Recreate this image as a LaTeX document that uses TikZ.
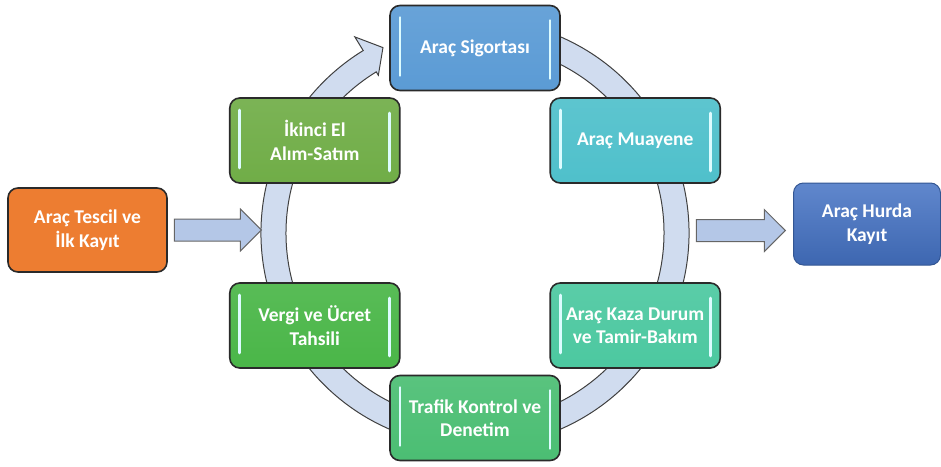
\documentclass[tikz,border=0pt]{standalone}
\usepackage{fontspec}
\setmainfont{Carlito}
\usetikzlibrary{positioning,shapes.arrows}

\definecolor{boxline}{HTML}{2A2A2A}
\definecolor{sigortablue}{HTML}{5B9BD5}
\definecolor{muayenecyan}{HTML}{4FC0CB}
\definecolor{kazateal}{HTML}{4CC8A0}
\definecolor{trafikgreen}{HTML}{4BBE73}
\definecolor{vergigreen}{HTML}{4AB648}
\definecolor{ikincigreen}{HTML}{70AD47}
\definecolor{tescilorange}{HTML}{ED7D31}
\definecolor{hurdablue}{HTML}{4472C4}
\definecolor{ringfill}{HTML}{D0DCEF}
\definecolor{arrowfill}{HTML}{B4C7E7}
\definecolor{glint}{HTML}{DDFCFF}

\newcommand\boxfont{\bfseries\fontsize{19.5}{23.5}\selectfont}

\begin{document}
\begin{tikzpicture}[x=1pt,y=1pt,
            hilite/.style={draw=glint,line width=2.8pt,line cap=round},
            main box/.style={rectangle,rounded corners=10pt,draw=boxline,line width=1.6pt,
              minimum width=170pt,minimum height=85pt,align=center,text=white,font=\boxfont,
              path picture={
                \draw[hilite] ([xshift=10pt,yshift=-12pt]path picture bounding box.north west)
                  -- ([xshift=10pt,yshift=15pt]path picture bounding box.south west);
                \draw[hilite] ([xshift=-10pt,yshift=-15pt]path picture bounding box.north east)
                  -- ([xshift=-10pt,yshift=12pt]path picture bounding box.south east);}},
            side box/.style={rectangle,rounded corners=10pt,line width=1.6pt,
              align=center,text=white,font=\boxfont},
            block arrow/.style={single arrow,draw=black!60,fill=arrowfill,line width=1pt,
              inner xsep=0pt,inner ysep=10.5pt,single arrow head extend=10pt}]

        \useasboundingbox (-475,-233) rectangle (466,233);

        % Cycle ring with its head at the top
        \filldraw[fill=ringfill,draw=black!75,line width=1pt]
            (70:214) arc[start angle=70,end angle=-238.5,radius=214]
            -- (-238.5:230) -- (-243.6:207) -- (-238.5:185) -- (-238.5:189)
            arc[start angle=-238.5,end angle=70,radius=189] -- cycle;

        % Define boxes on the cycle
        \node[main box,top color=sigortablue!92!white,bottom color=sigortablue] (sigorta) at (90:185) {Araç Sigortası};
        \node[main box,top color=muayenecyan!92!white,bottom color=muayenecyan] (muayene) at (30:185) {Araç Muayene};
        \node[main box,top color=kazateal!92!white,bottom color=kazateal] (kaza) at (-30:185) {Araç Kaza Durum\\ve Tamir-Bakım};
        \node[main box,top color=trafikgreen!92!white,bottom color=trafikgreen] (trafik) at (-90:185) {Trafik Kontrol ve\\Denetim};
        \node[main box,top color=vergigreen!92!white,bottom color=vergigreen] (vergi) at (-150:185) {Vergi ve Ücret\\Tahsili};
        \node[main box,top color=ikincigreen!92!white,bottom color=ikincigreen] (ikinciel) at (150:185) {İkinci El\\Alım-Satım};

        % Entry and exit
        \node[side box,draw=boxline,fill=tescilorange,minimum width=159pt,minimum height=84pt] (tescil) at (-387.5,3) {Araç Tescil ve\\İlk Kayıt};
        \node[side box,draw=hurdablue!75!black,line width=1pt,top color=hurdablue!85!white,bottom color=hurdablue!90!black,
              minimum width=147pt,minimum height=82pt] (hurda) at (392,9) {Araç Hurda\\Kayıt};

        \node[block arrow,minimum height=87pt] (girisok) [right=6pt of tescil] {};
        \node[block arrow,minimum height=89pt,yshift=-6.5pt] (cikisok) [left=7pt of hurda] {};

        \end{tikzpicture}
\end{document}
